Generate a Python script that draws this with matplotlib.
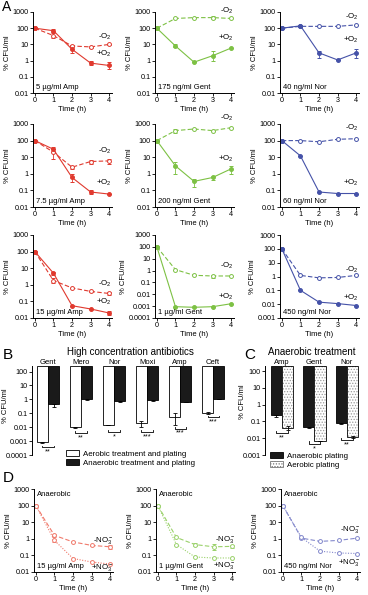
import matplotlib.pyplot as plt
from matplotlib.patches import Patch
from matplotlib.ticker import FixedLocator, FuncFormatter, NullLocator
import numpy as np

plt.rcParams['font.family'] = ['Liberation Sans', 'DejaVu Sans']
plt.rcParams['mathtext.fontset'] = 'custom'
plt.rcParams['mathtext.rm'] = 'Liberation Sans'
plt.rcParams['mathtext.it'] = 'Liberation Sans:italic'
plt.rcParams['mathtext.default'] = 'regular'
plt.rcParams['hatch.linewidth'] = 0.6

W, H = 368, 595

red = '#e0392e'
green = '#7dc144'
blue = '#4552a8'
red_l = '#f07a6c'
green_l = '#9ad16a'
blue_l = '#8489cc'

hours = [0, 1, 2, 3, 4]

# ---- panel A: +O2 (aerobic) and -O2 (anaerobic) killing curves ----
amp5_o2 = [100, 70, 5, 0.7, 0.5]
amp5_o2_lo = [100, 55, 3, 0.5, 0.3]
amp5_o2_hi = [100, 85, 9, 0.9, 0.8]
amp5_no2 = [100, 35, 8, 7, 10]
amp5_no2_lo = [100, 25, 7, 6, 9]
amp5_no2_hi = [100, 50, 9, 8, 11]

gent175_o2 = [100, 8, 0.8, 2, 6]
gent175_o2_lo = [100, 6.5, 0.8, 1, 6]
gent175_o2_hi = [100, 10, 0.8, 4, 6]
gent175_no2 = [100, 400, 450, 450, 400]
gent175_no2_lo = [100, 400, 450, 360, 400]
gent175_no2_hi = [100, 400, 450, 550, 400]

nor40_o2 = [100, 140, 3, 1.1, 3]
nor40_o2_lo = [100, 120, 1.5, 1.1, 1.5]
nor40_o2_hi = [100, 160, 4, 1.1, 5]
nor40_no2 = [100, 130, 130, 130, 160]

amp75_o2 = [100, 30, 0.6, 0.08, 0.06]
amp75_o2_lo = [100, 22, 0.3, 0.06, 0.06]
amp75_o2_hi = [100, 40, 1, 0.1, 0.06]
amp75_no2 = [100, 20, 2.5, 5.5, 6]
amp75_no2_lo = [100, 8, 2, 4, 4]
amp75_no2_hi = [100, 30, 3, 7, 8]

gent200_o2 = [100, 3, 0.35, 0.6, 2]
gent200_o2_lo = [100, 1, 0.15, 0.45, 1]
gent200_o2_hi = [100, 5, 0.5, 0.75, 3]
gent200_no2 = [100, 400, 500, 400, 600]
gent200_no2_lo = [100, 300, 500, 400, 600]
gent200_no2_hi = [100, 500, 500, 400, 600]

nor60_o2 = [100, 12, 0.08, 0.065, 0.065]
nor60_no2 = [100, 100, 85, 120, 130]

amp15_o2 = [100, 5, 0.055, 0.035, 0.02]
amp15_o2_lo = [100, 4, 0.055, 0.035, 0.016]
amp15_o2_hi = [100, 6, 0.055, 0.035, 0.025]
amp15_no2 = [100, 1.8, 0.65, 0.4, 0.3]
amp15_no2_lo = [100, 1.3, 0.65, 0.35, 0.25]
amp15_no2_hi = [100, 2.5, 0.65, 0.45, 0.35]

gent1_o2 = [100, 0.0009, 0.0008, 0.0009, 0.0016]
gent1_no2 = [100, 1.2, 0.4, 0.35, 0.35]
gent1_no2_lo = [100, 1.2, 0.4, 0.25, 0.35]
gent1_no2_hi = [100, 1.2, 0.4, 0.45, 0.35]

nor450_o2 = [100, 0.1, 0.014, 0.011, 0.008]
nor450_no2 = [100, 1.2, 0.8, 0.85, 1.2]

# ---- panel B: high concentration antibiotics ----
drugs_b = ['Gent', 'Mero', 'Nor', 'Moxi', 'Amp', 'Ceft']
aerobic_b = [0.0008, 0.01, 0.014, 0.02, 0.058, 0.11]
aerobic_b_lo = [0.0007, 0.009, 0.014, 0.011, 0.015, 0.095]
aerobic_b_hi = [0.0009, 0.011, 0.014, 0.03, 0.1, 0.125]
anaerobic_b = [0.45, 1.0, 0.72, 0.85, 0.65, 1.1]
anaerobic_b_lo = [0.3, 0.9, 0.65, 0.8, 0.6, 1.0]
stars_b = ['**', '**', '*', '***', '***', '***']
bracket_b = [0.00035, 0.004, 0.0045, 0.0045, 0.008, 0.05]

# ---- panel C: anaerobic treatment ----
drugs_c = ['Amp', 'Gent', 'Nor']
anaerobic_plating = [0.25, 0.045, 0.08]
anaerobic_plating_lo = [0.18, 0.038, 0.075]
aerobic_plating = [0.04, 0.007, 0.012]
aerobic_plating_lo = [0.03, 0.007, 0.011]
aerobic_plating_hi = [0.05, 0.007, 0.013]
stars_c = ['**', '*', '**']
bracket_c = [0.02, 0.0048, 0.008]

# ---- panel D: anaerobic +/- nitrate ----
amp15_nitrate_minus = [100, 1.6, 0.65, 0.4, 0.33]
amp15_nitrate_minus_lo = [100, 1.3, 0.65, 0.35, 0.25]
amp15_nitrate_minus_hi = [100, 2.0, 0.65, 0.45, 0.45]
amp15_nitrate_plus = [100, 0.8, 0.065, 0.04, 0.03]
amp15_nitrate_plus_lo = [100, 0.6, 0.065, 0.04, 0.03]
amp15_nitrate_plus_hi = [100, 1.0, 0.065, 0.04, 0.03]
gent1_nitrate_minus = [100, 1.2, 0.45, 0.33, 0.35]
gent1_nitrate_minus_lo = [100, 1.2, 0.35, 0.2, 0.28]
gent1_nitrate_minus_hi = [100, 1.2, 0.55, 0.5, 0.45]
gent1_nitrate_plus = [100, 0.45, 0.08, 0.07, 0.07]
nor450_nitrate_minus = [100, 1.1, 0.7, 0.8, 1.1]
nor450_nitrate_plus = [100, 1.2, 0.18, 0.14, 0.13]

FS = 5.2
dash = (0, (4, 2))
dot = (0, (1, 1.4))


def px_axes(left, top, right, bottom):
    return fig.add_axes([left / W, 1 - bottom / H, (right - left) / W, (bottom - top) / H])


def style_log(ax, ymin, ymax):
    ax.set_yscale('log')
    ax.set_ylim(ymin, ymax)
    decs = 10.0 ** np.arange(np.log10(ymin), np.log10(ymax) + 0.5)
    ax.yaxis.set_major_locator(FixedLocator(decs))
    ax.yaxis.set_minor_locator(NullLocator())
    ax.yaxis.set_major_formatter(FuncFormatter(lambda v, p: '{:g}'.format(v)))
    for s in ['top', 'right']:
        ax.spines[s].set_visible(False)
    for s in ['left', 'bottom']:
        ax.spines[s].set_linewidth(0.7)
    ax.tick_params(labelsize=FS, length=2, width=0.6, pad=1)
    ax.set_ylabel('% CFU/ml', fontsize=FS + 0.3, labelpad=1)


def series(ax, y, color, filled, ls, lo=None, hi=None):
    y = np.array(y, dtype=float)
    lo = y if lo is None else np.array(lo, dtype=float)
    hi = y if hi is None else np.array(hi, dtype=float)
    ax.errorbar(hours, y, yerr=[y - lo, hi - y], color=color, linestyle=ls,
                lw=0.8, marker='o', ms=2.8, mew=0.7,
                mfc=color if filled else 'white', mec=color,
                capsize=1.3, elinewidth=0.6, capthick=0.6)


def time_panel(ax, ymin, ymax, conc):
    style_log(ax, ymin, ymax)
    ax.set_xlim(-0.1, 4.15)
    ax.set_xticks(hours)
    ax.set_xlabel('Time (h)', fontsize=FS + 0.3, labelpad=1)
    ax.text(0.04, 0.03, conc, transform=ax.transAxes, fontsize=FS + 0.3,
            ha='left', va='bottom')


def label(ax, y, txt):
    ax.text(4.15, y, txt, fontsize=FS + 0.5, ha='right', va='center')


fig = plt.figure(figsize=(W / 100, H / 100), dpi=100)

cols = [(33, 112), (155, 234), (280, 359)]
rows = [(12, 93), (124, 207), (235, 318)]

a_panels = [
    [(0.01, 1000, '5 µg/ml Amp', red, amp5_o2, amp5_o2_lo, amp5_o2_hi, amp5_no2, amp5_no2_lo, amp5_no2_hi, 30, 2.5),
     (0.01, 1000, '175 ng/ml Gent', green, gent175_o2, gent175_o2_lo, gent175_o2_hi, gent175_no2, gent175_no2_lo, gent175_no2_hi, 1100, 25),
     (0.01, 1000, '40 ng/ml Nor', blue, nor40_o2, nor40_o2_lo, nor40_o2_hi, nor40_no2, None, None, 500, 20)],
    [(0.01, 1000, '7.5 µg/ml Amp', red, amp75_o2, amp75_o2_lo, amp75_o2_hi, amp75_no2, amp75_no2_lo, amp75_no2_hi, 25, 0.3),
     (0.01, 1000, '200 ng/ml Gent', green, gent200_o2, gent200_o2_lo, gent200_o2_hi, gent200_no2, gent200_no2_lo, gent200_no2_hi, 2200, 8),
     (0.01, 1000, '60 ng/ml Nor', blue, nor60_o2, None, None, nor60_no2, None, None, 600, 0.3)],
    [(0.01, 1000, '15 µg/ml Amp', red, amp15_o2, amp15_o2_lo, amp15_o2_hi, amp15_no2, amp15_no2_lo, amp15_no2_hi, 1.2, 0.09),
     (0.0001, 1000, '1 µg/ml Gent', green, gent1_o2, None, None, gent1_no2, gent1_no2_lo, gent1_no2_hi, 2.5, 0.006),
     (0.001, 1000, '450 ng/ml Nor', blue, nor450_o2, None, None, nor450_no2, None, None, 3, 0.03)],
]

for r, (top, bot) in enumerate(rows):
    for c, (left, right) in enumerate(cols):
        ymin, ymax, conc, col, o2, o2lo, o2hi, no2, no2lo, no2hi, ym, yp = a_panels[r][c]
        ax = px_axes(left, top, right, bot)
        time_panel(ax, ymin, ymax, conc)
        series(ax, no2, col, False, dash, no2lo, no2hi)
        series(ax, o2, col, True, '-', o2lo, o2hi)
        t = ax.text(4.15, ym, '-O$_2$', fontsize=FS + 0.5, ha='right', va='center')
        t.set_clip_on(False)
        label(ax, yp, '+O$_2$')

# ---- panel B ----
axb = px_axes(32, 366, 228, 455)
style_log(axb, 0.0001, 250)
axb.yaxis.set_label_coords(-0.115, 0.55)
axb.spines['bottom'].set_visible(False)
axb.set_xticks([])
axb.set_xlim(-0.485, 5.45)
xb = np.arange(len(drugs_b))
bw = 0.34
top_b = 250
aer = np.array(aerobic_b)
ana = np.array(anaerobic_b)
axb.bar(xb - bw / 2, top_b - aer, bottom=aer, width=bw, color='white', edgecolor='black', lw=0.6)
axb.bar(xb + bw / 2, top_b - ana, bottom=ana, width=bw, color='#1a1a1a', edgecolor='black', lw=0.6)
axb.errorbar(xb - bw / 2, aer, yerr=[aer - np.array(aerobic_b_lo), np.array(aerobic_b_hi) - aer],
             fmt='none', ecolor='black', elinewidth=0.6, capsize=1.5, capthick=0.6)
axb.errorbar(xb + bw / 2, ana, yerr=[ana - np.array(anaerobic_b_lo), 0 * ana],
             fmt='none', ecolor='black', elinewidth=0.6, capsize=1.5, capthick=0.6)
for i, d in enumerate(drugs_b):
    axb.text(i, 1.0, d, transform=axb.get_xaxis_transform(), ha='center', va='bottom', fontsize=FS + 0.3)
    yb = bracket_b[i]
    axb.plot([i - bw / 2, i - bw / 2, i + bw / 2, i + bw / 2], [yb * 1.35, yb, yb, yb * 1.35],
             color='black', lw=0.6)
    axb.text(i, yb / 1.25, stars_b[i], ha='center', va='top', fontsize=FS)
fig.text(130 / W, 1 - 352 / H, 'High concentration antibiotics', ha='center', va='center', fontsize=7)
fig.legend(handles=[Patch(facecolor='white', edgecolor='black', lw=0.6, label='Aerobic treatment and plating'),
                    Patch(facecolor='#1a1a1a', edgecolor='black', lw=0.6, label='Anaerobic treatment and plating')],
           loc='upper left', bbox_to_anchor=(66 / W, 1 - 450 / H), frameon=False, fontsize=FS + 0.5,
           handlelength=1.6, handleheight=0.8, handletextpad=0.5, labelspacing=0.15, borderpad=0, borderaxespad=0)

# ---- panel C ----
axc = px_axes(265, 366, 360, 455)
style_log(axc, 0.001, 200)
axc.yaxis.set_label_coords(-0.2, 0.6)
axc.spines['bottom'].set_visible(False)
axc.set_xticks([])
axc.set_xlim(-0.52, 2.4)
xc = np.arange(len(drugs_c))
cw = 0.35
top_c = 200
anp = np.array(anaerobic_plating)
aep = np.array(aerobic_plating)
axc.bar(xc - cw / 2, top_c - anp, bottom=anp, width=cw, color='#1a1a1a', edgecolor='black', lw=0.6)
axc.bar(xc + cw / 2, top_c - aep, bottom=aep, width=cw, color='white', edgecolor='#9a9a9a', hatch='......', lw=0)
axc.bar(xc + cw / 2, top_c - aep, bottom=aep, width=cw, fill=False, edgecolor='black', lw=0.6)
axc.errorbar(xc - cw / 2, anp, yerr=[anp - np.array(anaerobic_plating_lo), 0 * anp],
             fmt='none', ecolor='black', elinewidth=0.6, capsize=1.5, capthick=0.6)
axc.errorbar(xc + cw / 2, aep, yerr=[aep - np.array(aerobic_plating_lo), np.array(aerobic_plating_hi) - aep],
             fmt='none', ecolor='black', elinewidth=0.6, capsize=1.5, capthick=0.6)
for i, d in enumerate(drugs_c):
    axc.text(i, 1.0, d, transform=axc.get_xaxis_transform(), ha='center', va='bottom', fontsize=FS + 0.3)
    yb = bracket_c[i]
    axc.plot([i - cw / 2, i - cw / 2, i + cw / 2, i + cw / 2], [yb * 1.35, yb, yb, yb * 1.35],
             color='black', lw=0.6)
    axc.text(i, yb / 1.25, stars_c[i], ha='center', va='top', fontsize=FS)
fig.text(312 / W, 1 - 352 / H, 'Anaerobic treatment', ha='center', va='center', fontsize=7)
fig.legend(handles=[Patch(facecolor='#1a1a1a', edgecolor='black', lw=0.6, label='Anaerobic plating'),
                    Patch(facecolor='white', edgecolor='#777777', hatch='......', lw=0.6, label='Aerobic plating')],
           loc='upper left', bbox_to_anchor=(270 / W, 1 - 452 / H), frameon=False, fontsize=FS + 0.5,
           handlelength=1.6, handleheight=0.8, handletextpad=0.5, labelspacing=0.15, borderpad=0, borderaxespad=0)

# ---- panel D ----
d_panels = [
    ('15 µg/ml Amp', red_l, amp15_nitrate_minus, amp15_nitrate_minus_lo, amp15_nitrate_minus_hi,
     amp15_nitrate_plus, amp15_nitrate_plus_lo, amp15_nitrate_plus_hi, 0.75, 0.018),
    ('1 µg/ml Gent', green_l, gent1_nitrate_minus, gent1_nitrate_minus_lo, gent1_nitrate_minus_hi,
     gent1_nitrate_plus, None, None, 0.9, 0.025),
    ('450 ng/ml Nor', blue_l, nor450_nitrate_minus, None, None,
     nor450_nitrate_plus, None, None, 3.5, 0.035),
]
for c, (left, right) in enumerate(cols):
    conc, col, mn, mnlo, mnhi, pl, pllo, plhi, ym, yp = d_panels[c]
    ax = px_axes(left + 1, 489, right + 1, 572)
    time_panel(ax, 0.01, 1000, conc)
    ax.text(0.04, 0.97, 'Anaerobic', transform=ax.transAxes, fontsize=FS + 0.3, ha='left', va='top')
    series(ax, mn, col, False, dash, mnlo, mnhi)
    series(ax, pl, col, False, dot, pllo, plhi)
    label(ax, ym, '-NO$_3^-$')
    label(ax, yp, '+NO$_3^-$')

fig.text(2 / W, 1.0, 'A', fontsize=10, ha='left', va='top')
for letter, x, y in [('B', 3, 355), ('C', 244, 355), ('D', 3, 478)]:
    fig.text(x / W, 1 - y / H, letter, fontsize=11, ha='left', va='center')

fig.savefig('out.png', dpi=100)
